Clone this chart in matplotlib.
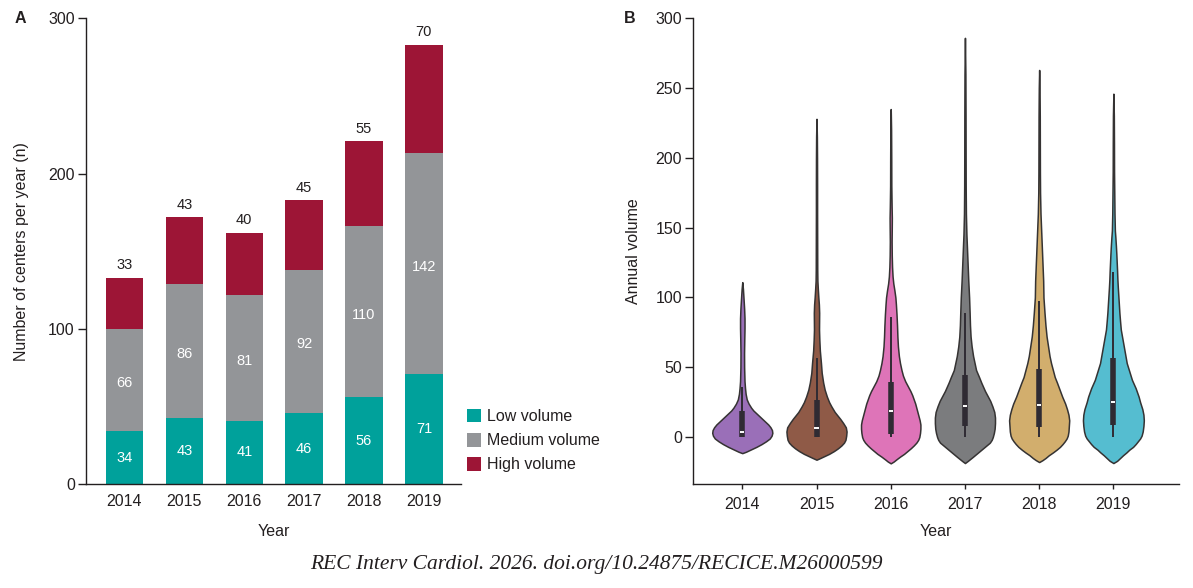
import matplotlib
matplotlib.use("Agg")
import matplotlib.pyplot as plt

plt.rcParams['font.family'] = ['Liberation Sans', 'DejaVu Sans']

# ---------------- Data: panel A ----------------
years = ["2014", "2015", "2016", "2017", "2018", "2019"]
low_volume = [34, 43, 41, 46, 56, 71]
medium_volume = [66, 86, 81, 92, 110, 142]
high_volume = [33, 43, 40, 45, 55, 70]

# ---------------- Data: panel B (violin outlines) ----------------
v2014_y = [-11.5, -10.5, -9, -7, -5, -3, -1, 1, 3, 5, 7, 9, 11, 13, 15, 17, 19, 21, 24, 27, 31, 35, 40, 50, 60, 70, 78, 85, 92, 100, 106, 111]
v2014_w = [0, 0.05, 0.11, 0.19, 0.26, 0.32, 0.37, 0.395, 0.405, 0.40, 0.38, 0.35, 0.31, 0.27, 0.23, 0.19, 0.15, 0.12, 0.085, 0.06, 0.045, 0.037, 0.03, 0.025, 0.024, 0.027, 0.03, 0.03, 0.025, 0.016, 0.009, 0]

v2015_y = [-16.2, -15, -13.5, -12, -10, -8, -6, -4, -2, 1, 4, 7, 10, 13, 15, 18, 22, 25, 29, 34, 39, 46, 53, 62, 70, 77, 83, 89, 95, 100, 106, 112, 120, 140, 160, 180, 200, 215, 228]
v2015_w = [0, 0.05, 0.11, 0.17, 0.235, 0.29, 0.335, 0.37, 0.39, 0.40, 0.405, 0.395, 0.36, 0.32, 0.29, 0.245, 0.20, 0.17, 0.14, 0.11, 0.09, 0.07, 0.06, 0.045, 0.038, 0.034, 0.035, 0.036, 0.032, 0.025, 0.018, 0.012, 0.01, 0.009, 0.008, 0.008, 0.007, 0.005, 0]

v2016_y = [-18.8, -17.5, -16, -14, -12, -10, -8, -6, -4, -2, 0, 3, 6, 9, 12, 15, 18, 21, 24, 27, 30, 33, 36, 40, 44, 48, 53, 58, 65, 72, 80, 88, 95, 100, 105, 110, 115, 122, 130, 140, 150, 157, 165, 180, 200, 220, 235]
v2016_w = [0, 0.04, 0.075, 0.125, 0.18, 0.225, 0.27, 0.31, 0.345, 0.37, 0.385, 0.395, 0.40, 0.40, 0.39, 0.375, 0.36, 0.345, 0.33, 0.31, 0.29, 0.265, 0.235, 0.195, 0.165, 0.145, 0.125, 0.11, 0.097, 0.09, 0.085, 0.078, 0.07, 0.063, 0.05, 0.035, 0.025, 0.018, 0.014, 0.012, 0.014, 0.015, 0.012, 0.008, 0.007, 0.005, 0]

v2017_y = [-18.6, -17, -15.5, -14, -12, -10, -8, -6, -4, -2, 0, 3, 6, 10, 14, 18, 22, 26, 29, 33, 36, 39, 43, 48, 53, 58, 65, 72, 80, 89, 100, 112, 124, 136, 145, 160, 180, 200, 230, 260, 286]
v2017_w = [0, 0.04, 0.075, 0.11, 0.155, 0.20, 0.245, 0.29, 0.335, 0.36, 0.375, 0.39, 0.40, 0.405, 0.405, 0.395, 0.37, 0.34, 0.31, 0.27, 0.245, 0.22, 0.19, 0.15, 0.13, 0.11, 0.09, 0.076, 0.068, 0.063, 0.056, 0.045, 0.036, 0.027, 0.02, 0.013, 0.01, 0.009, 0.008, 0.006, 0]

v2018_y = [-17.9, -16.5, -15, -13, -11, -9, -7, -5, -3, -1, 1, 4, 8, 12, 16, 20, 24, 29, 34, 39, 43, 48, 53, 58, 65, 72, 80, 89, 100, 112, 124, 136, 148, 160, 175, 190, 210, 230, 250, 263]
v2018_w = [0, 0.045, 0.085, 0.13, 0.185, 0.235, 0.28, 0.315, 0.345, 0.37, 0.385, 0.395, 0.40, 0.405, 0.395, 0.375, 0.35, 0.31, 0.275, 0.24, 0.21, 0.185, 0.16, 0.14, 0.12, 0.10, 0.085, 0.072, 0.058, 0.054, 0.045, 0.036, 0.027, 0.018, 0.012, 0.01, 0.009, 0.008, 0.005, 0]

v2019_y = [-18.6, -17, -15, -13, -11, -9, -7, -5, -3, -1, 1, 4, 8, 12, 16, 20, 25, 29, 35, 41, 47, 53, 59, 65, 71, 77, 83, 89, 95, 101, 107, 113, 119, 125, 131, 137, 143, 148, 160, 175, 190, 210, 230, 246]
v2019_w = [0, 0.05, 0.09, 0.13, 0.175, 0.215, 0.265, 0.30, 0.33, 0.36, 0.38, 0.395, 0.405, 0.41, 0.405, 0.39, 0.36, 0.34, 0.30, 0.25, 0.215, 0.18, 0.16, 0.14, 0.12, 0.10, 0.09, 0.081, 0.074, 0.067, 0.06, 0.054, 0.05, 0.045, 0.04, 0.034, 0.027, 0.02, 0.015, 0.012, 0.009, 0.008, 0.006, 0]

violin_y = [v2014_y, v2015_y, v2016_y, v2017_y, v2018_y, v2019_y]
violin_w = [v2014_w, v2015_w, v2016_w, v2017_w, v2018_w, v2019_w]

# inner box statistics
box_q1 = [0, 0, 2.2, 8.1, 7.0, 8.5]
box_median = [3.8, 6.4, 18.7, 22.4, 23.2, 25.0]
box_q3 = [18.4, 26.8, 39.7, 44.5, 48.6, 57.0]
whisker_lo = [0, 0, 0, 0, 0, 0]
whisker_hi = [35.8, 57.0, 86.0, 89.2, 97.8, 118.0]

# ---------------- Styles ----------------
c_low, c_med, c_high = "#00a19b", "#939598", "#9d1536"
violin_colors = ["#9a6fb8", "#8f5a47", "#de74b8", "#7b7c7e", "#d2ae6d", "#55bdd0"]
ink = "#231f20"
box_col = "#2f2b33"
edge_col = "#353333"

W, H = 1193, 588
fig = plt.figure(figsize=(W / 100, H / 100), dpi=100)

def px_axes(x0, y0, x1, y1):
    return fig.add_axes([x0 / W, 1 - y1 / H, (x1 - x0) / W, (y1 - y0) / H])

# ---------------- Panel A ----------------
axA = px_axes(85.7, 18.3, 461, 484.3)
x = list(range(len(years)))
bw = 0.625
bot_med = low_volume
bot_high = [l + m for l, m in zip(low_volume, medium_volume)]
b1 = axA.bar(x, low_volume, bw, color=c_low, label="Low volume")
b2 = axA.bar(x, medium_volume, bw, bottom=bot_med, color=c_med, label="Medium volume")
b3 = axA.bar(x, high_volume, bw, bottom=bot_high, color=c_high, label="High volume")

for i in x:
    axA.text(i, low_volume[i] / 2, str(low_volume[i]), ha="center", va="center",
             color="white", fontsize=10.5)
    axA.text(i, low_volume[i] + medium_volume[i] / 2 - 2, str(medium_volume[i]), ha="center",
             va="center", color="white", fontsize=10.5)
    axA.annotate(str(high_volume[i]), (i, bot_high[i] + high_volume[i]),
                 xytext=(0, 8.8), textcoords="offset points", ha="center", va="center",
                 color=ink, fontsize=10.5)

axA.set_xlim(-0.648, 5.62)
axA.set_ylim(0, 300)
axA.set_yticks([0, 100, 200, 300])
axA.set_xticks(x)
axA.set_xticklabels(years)
for s in ["top", "right"]:
    axA.spines[s].set_visible(False)
for s in ["left", "bottom"]:
    axA.spines[s].set_color(ink)
    axA.spines[s].set_linewidth(1.0)
axA.tick_params(axis="y", length=5.8, width=1.0, color=ink, labelsize=11.5, labelcolor=ink, pad=2)
axA.tick_params(axis="x", length=0, labelsize=11.5, labelcolor=ink, pad=7)
axA.set_ylabel("Number of centers per year (n)", fontsize=11.5, color=ink)
axA.set_xlabel("Year", fontsize=11.5, color=ink)
axA.yaxis.set_label_coords((21.7 - 85.7) / (461 - 85.7), 0.5)
axA.yaxis.label.set_va("center")
axA.xaxis.set_label_coords(0.5, -(531.7 - 484.3) / (484.3 - 18.3))
axA.xaxis.label.set_va("center")

fig.legend(handles=[b1, b2, b3], loc="lower left",
           bbox_to_anchor=(466.6 / W, 1 - 472.5 / H), frameon=False, fontsize=11.5,
           handlelength=0.9, handleheight=0.9, handletextpad=0.36, labelspacing=0.56,
           borderpad=0, borderaxespad=0, labelcolor=ink)

# ---------------- Panel B ----------------
axB = px_axes(693.3, 18.3, 1178.7, 484.0)
for i in range(len(years)):
    ys = violin_y[i]
    ws = violin_w[i]
    left = [i - w for w in ws]
    right = [i + w for w in ws]
    axB.fill_betweenx(ys, left, right, facecolor=violin_colors[i], edgecolor=edge_col,
                      linewidth=1.1, zorder=2)
    axB.plot([i, i], [whisker_lo[i], whisker_hi[i]], color=box_col, lw=1.4,
             solid_capstyle="butt", zorder=3)
    axB.plot([i, i], [box_q1[i], box_q3[i]], color=box_col, lw=4.0,
             solid_capstyle="butt", zorder=4)
    axB.plot([i - 0.028, i + 0.028], [box_median[i], box_median[i]], color="white",
             lw=1.4, solid_capstyle="butt", zorder=5)

axB.set_xlim(-0.66, 5.88)
axB.set_ylim(-33.6, 300)
axB.set_yticks([0, 50, 100, 150, 200, 250, 300])
axB.set_xticks(range(len(years)))
axB.set_xticklabels(years)
for s in ["top", "right"]:
    axB.spines[s].set_visible(False)
for s in ["left", "bottom"]:
    axB.spines[s].set_color(ink)
    axB.spines[s].set_linewidth(1.0)
axB.tick_params(axis="y", length=6, width=1.0, color=ink, labelsize=11.5, labelcolor=ink, pad=2)
axB.tick_params(axis="x", length=3.6, width=1.0, color=ink, labelsize=11.5, labelcolor=ink, pad=6)
axB.set_ylabel("Annual volume", fontsize=11.5, color=ink)
axB.set_xlabel("Year", fontsize=11.5, color=ink)
axB.yaxis.set_label_coords((634 - 693.3) / (1178.7 - 693.3), 0.5)
axB.yaxis.label.set_va("center")
axB.xaxis.set_label_coords(0.5, -(532 - 484.0) / (484.0 - 18.3))
axB.xaxis.label.set_va("center")

# panel letters
fig.text(20 / W, 1 - 18.3 / H, "A", ha="center", va="center", fontsize=11.5,
         fontweight="bold", color=ink)
fig.text(630 / W, 1 - 18.3 / H, "B", ha="center", va="center", fontsize=11.5,
         fontweight="bold", color=ink)

# citation
fig.text(596 / W, 1 - 564 / H, "REC Interv Cardiol. 2026. doi.org/10.24875/RECICE.M26000599",
         ha="center", va="center", fontsize=15.5, style="italic",
         family=["Liberation Serif", "DejaVu Serif"], color=ink)

fig.savefig("out.png", dpi=100)
